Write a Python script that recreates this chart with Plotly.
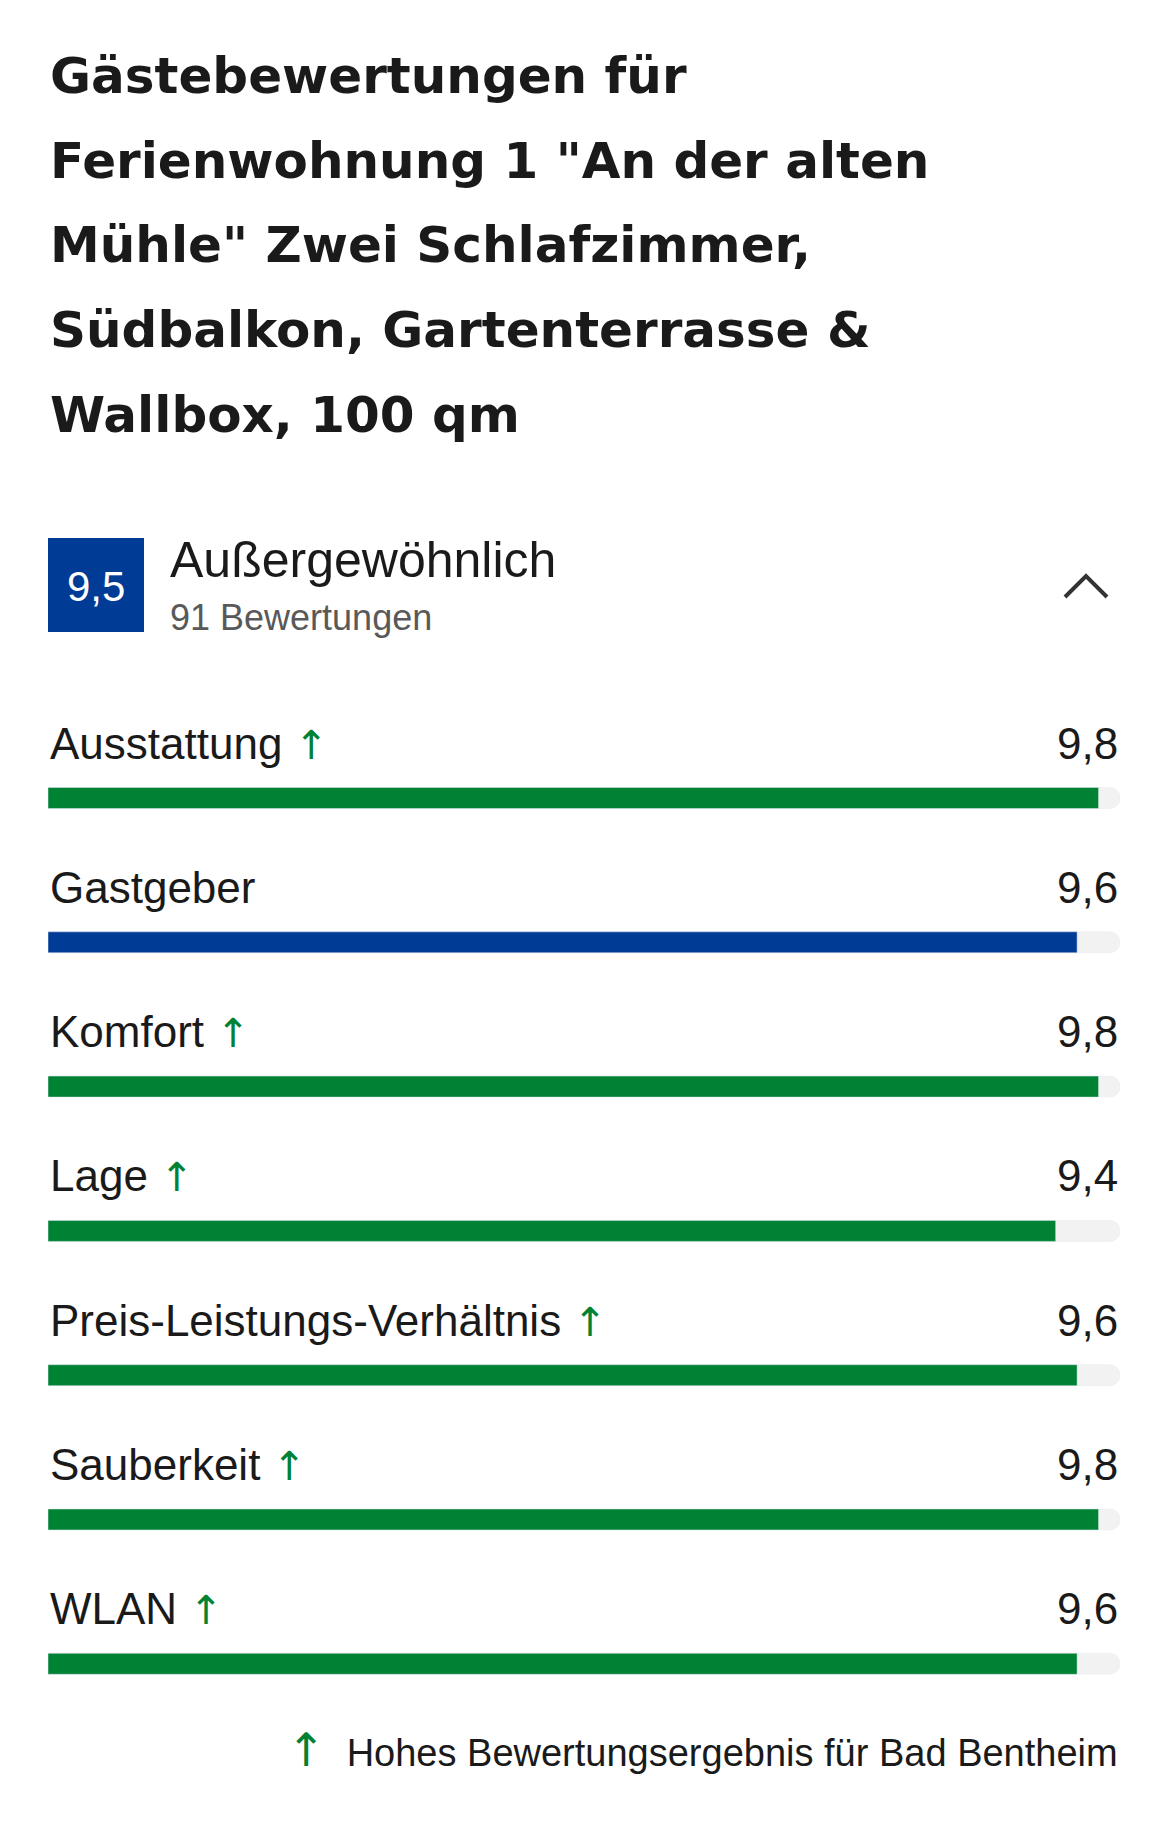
import plotly.graph_objects as go

W, H = 1169, 1831
title_lines = ["Gästebewertungen für", "Ferienwohnung 1 \"An der alten", "Mühle\" Zwei Schlafzimmer,",
               "Südbalkon, Gartenterrasse &", "Wallbox, 100 qm"]
overall_score = "9,5"
overall_label = "Außergewöhnlich"
review_count = "91 Bewertungen"
categories = ["Ausstattung", "Gastgeber", "Komfort", "Lage", "Preis-Leistungs-Verhältnis", "Sauberkeit", "WLAN"]
scores = [9.8, 9.6, 9.8, 9.4, 9.6, 9.8, 9.6]
high_marker = [True, False, True, True, True, True, True]
footer = "Hohes Bewertungsergebnis für Bad Bentheim"
max_score = 10

GREEN = "#008234"
BLUE = "#003b95"
L, R = 40, 1112

bar_y0, bar_step = 790, 144.3
label_off = 55
ys = [bar_y0 + i * bar_step for i in range(len(categories))]
colors = [GREEN if h else BLUE for h in high_marker]

fig = go.Figure()
fig.add_trace(go.Bar(x=[max_score] * len(categories), y=ys, orientation="h", width=21,
                     marker=dict(color="#f2f2f2", cornerradius=10), hoverinfo="skip"))
fig.add_trace(go.Bar(x=scores, y=ys, orientation="h", width=21,
                     marker=dict(color=colors, cornerradius=10)))

ARROW = lambda sz: f"<span style='color:{GREEN};font-family:DejaVu Sans;font-size:{sz}px'>↑</span>"
ann = []
for i, line in enumerate(title_lines):
    ann.append(dict(x=L / W, y=1 - (68 + i * 84.7) / H, xref="paper", yref="paper",
                    text=f"<b>{line}</b>", showarrow=False, xanchor="left", yanchor="middle",
                    font=dict(family="DejaVu Sans", size=50, color="#1a1a1a")))
ann.append(dict(x=88 / W, y=1 - 578 / H, xref="paper", yref="paper", text=overall_score, showarrow=False,
                xanchor="center", yanchor="middle",
                font=dict(family="Liberation Sans", size=42, color="white")))
ann.append(dict(x=160 / W, y=1 - 552 / H, xref="paper", yref="paper", text=overall_label, showarrow=False,
                xanchor="left", yanchor="middle", font=dict(family="Liberation Sans", size=50, color="#1a1a1a")))
ann.append(dict(x=160 / W, y=1 - 609 / H, xref="paper", yref="paper", text=review_count, showarrow=False,
                xanchor="left", yanchor="middle", font=dict(family="Liberation Sans", size=36, color="#595959")))
for c, s, h, y in zip(categories, scores, high_marker, ys):
    txt = c + (" " + ARROW(40) if h else "")
    ann.append(dict(x=L / W, y=1 - (y - label_off) / H, xref="paper", yref="paper", text=txt, showarrow=False,
                    xanchor="left", yanchor="middle", font=dict(family="Liberation Sans", size=44, color="#1a1a1a")))
    ann.append(dict(x=R / W, y=1 - (y - label_off) / H, xref="paper", yref="paper",
                    text=f"{s:.1f}".replace(".", ","), showarrow=False, xanchor="right", yanchor="middle",
                    font=dict(family="Liberation Sans", size=44, color="#1a1a1a")))
ann.append(dict(x=R / W, y=1 - 1742 / H, xref="paper", yref="paper",
                text=f"{ARROW(46)}  {footer}", showarrow=False,
                xanchor="right", yanchor="middle", font=dict(family="Liberation Sans", size=38, color="#1a1a1a")))

shapes = [
    dict(type="rect", xref="paper", yref="paper", x0=L / W, x1=136 / W, y0=1 - 624 / H, y1=1 - 530 / H,
         fillcolor=BLUE, line=dict(width=0)),
    dict(type="path", xref="paper", yref="paper",
         path=f"M {1057/W} {1-589/H} L {1078/W} {1-568/H} L {1099/W} {1-589/H}",
         line=dict(color="#333", width=4)),
]

fig.update_layout(width=W, height=H, margin=dict(l=0, r=0, t=0, b=0), paper_bgcolor="white",
                  plot_bgcolor="white", showlegend=False, barmode="overlay", annotations=ann, shapes=shapes,
                  xaxis=dict(range=[0, max_score], domain=[L / W, R / W], visible=False, fixedrange=True),
                  yaxis=dict(range=[H, 0], domain=[0, 1], visible=False, fixedrange=True))
fig.write_html("out.html")
